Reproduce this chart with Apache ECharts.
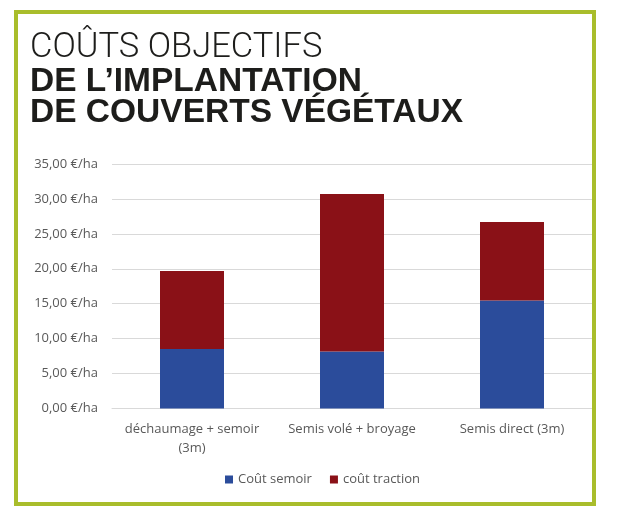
<!DOCTYPE html>
<html>
<head>
<meta charset="utf-8">
<script src="https://cdn.jsdelivr.net/npm/echarts@6/dist/echarts.min.js"></script>
<style>
html,body{margin:0;padding:0;background:#ffffff;}
#c{width:620px;height:526px;}
</style>
</head>
<body>
<div id="c"></div>
<script>
const categories = ['déchaumage + semoir\n(3m)', 'Semis volé + broyage', 'Semis direct (3m)'];
const coutSemoir = [8.5, 8.15, 15.45];
const coutTraction = [11.2, 22.55, 11.25];
const seriesNames = ['Coût semoir', 'coût traction'];
const yTicks = [0, 5, 10, 15, 20, 25, 30, 35];
const yTickLabels = ['0,00 €/ha', '5,00 €/ha', '10,00 €/ha', '15,00 €/ha', '20,00 €/ha', '25,00 €/ha', '30,00 €/ha', '35,00 €/ha'];
const titleLines = ['COÛTS OBJECTIFS', 'DE L’IMPLANTATION', 'DE COUVERTS VÉGÉTAUX'];

const chart = echarts.init(document.getElementById('c'), null, {renderer: 'canvas'});
const labelColor = '#595959';
const font = '"Open Sans", sans-serif';

chart.setOption({
  backgroundColor: '#ffffff',
  animation: false,
  title: {
    left: 30,
    top: 30,
    padding: 0,
    text: '{a|' + titleLines[0] + '}\n{b|' + titleLines[1] + '}\n{b|' + titleLines[2] + '}',
    textStyle: {
      rich: {
        a: {fontFamily: 'Roboto, "Liberation Sans", sans-serif', fontWeight: 300, fontSize: 34.5, lineHeight: 36, color: '#1d1d1b'},
        b: {fontFamily: '"Liberation Sans", Arial, sans-serif', fontWeight: 'bold', fontSize: 33.5, lineHeight: 31, color: '#1d1d1b'}
      }
    }
  },
  graphic: [{
    type: 'rect',
    shape: {x: 16, y: 12, width: 578, height: 492},
    style: {fill: 'none', stroke: '#a9bd2b', lineWidth: 4},
    z: 100
  }],
  legend: {
    data: seriesNames,
    left: 225,
    top: 473,
    padding: 0,
    icon: 'rect',
    itemWidth: 8,
    itemHeight: 8,
    itemGap: 18,
    textStyle: {color: labelColor, fontFamily: font, fontSize: 13}
  },
  grid: {left: 112, right: 28, top: 164, bottom: 117.5, containLabel: false},
  xAxis: {
    type: 'category',
    data: categories,
    axisLine: {lineStyle: {color: '#d9d9d9', width: 1}},
    axisTick: {show: false},
    axisLabel: {color: labelColor, fontFamily: font, fontSize: 13, lineHeight: 19, margin: 11, interval: 0}
  },
  yAxis: {
    type: 'value',
    min: yTicks[0],
    max: yTicks[yTicks.length - 1],
    interval: 5,
    axisLine: {show: false},
    axisTick: {show: false},
    splitLine: {lineStyle: {color: '#d9d9d9', width: 1}},
    axisLabel: {
      color: labelColor, fontFamily: font, fontSize: 13, margin: 14,
      formatter: function (v) { const i = yTicks.indexOf(v); return i >= 0 ? yTickLabels[i] : ''; }
    }
  },
  series: [
    {name: seriesNames[0], type: 'bar', stack: 'total', data: coutSemoir, barWidth: '40%', itemStyle: {color: '#2b4c9b'}},
    {name: seriesNames[1], type: 'bar', stack: 'total', data: coutTraction, barWidth: '40%', itemStyle: {color: '#8a1117'}}
  ]
});
</script>
</body>
</html>
